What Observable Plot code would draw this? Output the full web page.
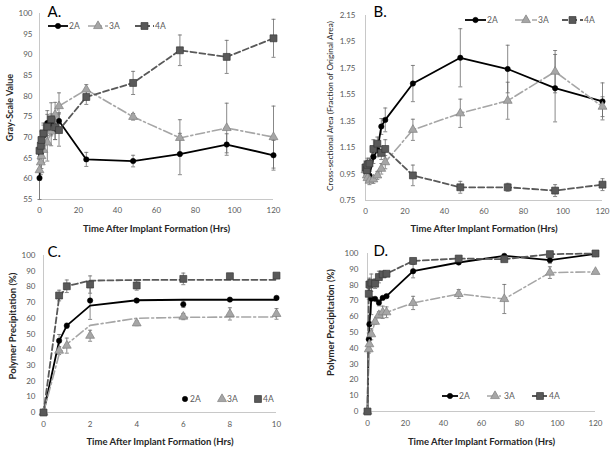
<!DOCTYPE html>
<html><head><meta charset="utf-8">
<script src="https://cdn.jsdelivr.net/npm/d3@7"></script>
<script src="https://cdn.jsdelivr.net/npm/@observablehq/plot@0.6"></script>
<style>
body{margin:0;background:#fff;font-family:Lato,"Open Sans",sans-serif;}
#wrap{position:relative;width:614px;height:454px;overflow:hidden;background:#fff;}
.panel{position:absolute;}
.leg{position:absolute;display:flex;align-items:center;font-size:8.5px;color:#595959;font-family:Lato,sans-serif;white-space:nowrap;}
.leg svg{overflow:visible;}
</style></head><body><div id="wrap"></div>
<script>
// ---------- data ----------
const hours = [0, 0.67, 1, 2, 4, 6, 8, 10, 24, 48, 72, 96, 120];
const hoursShort = [0, 0.67, 1, 2, 4, 6, 8, 10];
const seriesNames = ["2A", "3A", "4A"];

// Panel A: gray-scale value
const grayA_2A = [60.2, 66.0, 68.0, 70.5, 73.5, 73.2, 72.0, 74.0, 64.7, 64.3, 66.0, 68.3, 65.7];
const grayA_2A_err = [5.2, 2.0, 2.0, 2.5, 3.0, 2.5, 2.5, 2.0, 1.7, 1.4, 5.0, 2.6, 3.6];
const grayA_3A = [62.1, 64.0, 65.5, 67.0, 68.8, 71.5, 75.5, 77.6, 81.6, 75.0, 69.9, 72.3, 70.1];
const grayA_3A_err = [2.5, 3.0, 3.0, 3.0, 4.5, 3.5, 3.0, 3.2, 1.2, 0.8, 4.4, 6.0, 7.5];
const grayA_4A = [66.8, 68.0, 69.4, 71.0, 72.6, 74.4, 72.5, 71.8, 79.8, 83.2, 91.1, 89.5, 94.0];
const grayA_4A_err = [2.0, 2.0, 2.0, 2.5, 3.0, 4.0, 3.0, 3.9, 1.8, 2.8, 3.7, 4.0, 4.6];

// Panel B: cross-sectional area
const areaB_2A = [0.99, 0.97, 0.95, 0.94, 1.08, 1.13, 1.31, 1.36, 1.635, 1.83, 1.745, 1.60, 1.50];
const areaB_2A_err = [0.04, 0.04, 0.04, 0.03, 0.05, 0.05, 0.06, 0.09, 0.137, 0.22, 0.18, 0.255, 0.14];
const areaB_3A = [0.98, 0.94, 0.92, 0.90, 0.91, 0.94, 0.99, 1.04, 1.285, 1.41, 1.505, 1.725, 1.46];
const areaB_3A_err = [0.04, 0.03, 0.03, 0.03, 0.03, 0.03, 0.04, 0.05, 0.08, 0.107, 0.14, 0.16, 0.075];
const areaB_4A = [1.00, 0.98, 1.02, 1.03, 1.14, 1.18, 1.11, 1.14, 0.94, 0.85, 0.85, 0.825, 0.87];
const areaB_4A_err = [0.05, 0.05, 0.05, 0.04, 0.07, 0.05, 0.05, 0.07, 0.078, 0.045, 0.03, 0.045, 0.045];

// Panel C: precipitation, first 10 h (points + fitted curves)
const precC_2A = [0, 45.7, 55.3, 71.3, 71.3, 68.9, 71.9, 73.0];
const precC_2A_err = [0, 4, 1.5, 12, 1, 2, 1, 1];
const precC_3A = [0, 39.4, 42.6, 48.9, 56.8, 61.1, 62.8, 62.8];
const precC_3A_err = [0, 2.5, 4.8, 3.5, 1.5, 2, 3.9, 3.4];
const precC_4A = [0, 74.5, 80.4, 81.5, 80.9, 85.1, 86.8, 87.2];
const precC_4A_err = [0, 3.4, 4, 5.5, 3, 3.7, 1, 1];
const fitC_2A = [0, 45.5, 55.3, 68.1, 71.5, 71.8, 71.8, 71.8];
const fitC_3A = [0, 37.0, 43.5, 55.5, 60.0, 60.6, 60.8, 60.8];
const fitC_4A = [0, 73.0, 80.5, 84.0, 84.4, 84.5, 84.5, 84.5];

// Panel D: precipitation, 120 h
const precD_2A = [0, 45.7, 55.3, 71.3, 71.3, 68.9, 71.9, 73.0, 88.8, 94.3, 98.5, 95.8, 99.7];
const precD_2A_err = [0, 4, 1.5, 10, 1, 2, 1, 1, 4.2, 1, 1, 2, 0];
const precD_3A = [0, 39.4, 42.6, 48.9, 56.8, 61.1, 62.8, 62.8, 68.7, 74.4, 71.2, 87.9, 88.4];
const precD_3A_err = [0, 2.5, 4.8, 3.5, 1.5, 2, 3.9, 3.4, 4.2, 2.8, 9.2, 3.7, 0.5];
const precD_4A = [0, 74.5, 80.4, 81.5, 80.9, 85.1, 86.8, 87.2, 95.3, 96.8, 96.4, 99.6, 100];
const precD_4A_err = [0, 3.4, 4, 5.5, 3, 3.7, 1, 1, 1, 1, 1, 1, 0];

// tick labels
const xTicks120 = [0, 20, 40, 60, 80, 100, 120];
const xTicks10 = [0, 2, 4, 6, 8, 10];
const yTicksA = [55, 60, 65, 70, 75, 80, 85, 90, 95, 100];
const yTicksB = [0.75, 0.95, 1.15, 1.35, 1.55, 1.75, 1.95, 2.15];
const yTicks100 = [0, 10, 20, 30, 40, 50, 60, 70, 80, 90, 100];

const xTitle = "Time After Implant Formation (Hrs)";
const titleA = "Gray-Scale Value";
const titleB = "Cross-sectional Area (Fraction of Original Area)";
const titleCD = "Polymer Precipitation (%)";

// ---------- styles ----------
const styles = {
  "2A": {symbol: "circle", d3sym: d3.symbolCircle, r: 2.7, fill: "#000", stroke: "#000", sw: 0.5, line: "#000", lw: 1.8, dash: null},
  "3A": {symbol: "triangle", d3sym: d3.symbolTriangle, r: 3.3, fill: "#a6a6a6", stroke: "#7f7f7f", sw: 0.7, line: "#a6a6a6", lw: 1.6, dash: "9,3,2,3"},
  "4A": {symbol: "square", d3sym: d3.symbolSquare, r: 3.9, fill: "#595959", stroke: "#3a3a3a", sw: 0.7, line: "#595959", lw: 1.8, dash: "6,3"}
};
const errColor = "#6a6a6a";
const capSymbol = {draw(ctx, size) { const r = Math.sqrt(size / Math.PI); ctx.moveTo(-r, 0); ctx.lineTo(r, 0); }};

function rowsOf(t, v, e) { return t.map((x, i) => ({t: x, v: v[i], e: e ? e[i] : 0})); }

function panel(o) {
  const marks = [
    Plot.ruleY([o.yDomain[0]], {stroke: "#c8c8c8", strokeWidth: 1}),
    Plot.ruleX([o.xDomain[0]], {stroke: "#c8c8c8", strokeWidth: 1}),
    Plot.axisX({ticks: o.xTicks, tickSize: 0, tickPadding: o.xPad, label: null, fill: "#595959", fontSize: 8}),
    Plot.axisY({ticks: o.yTicks, tickSize: 0, tickPadding: o.yPad, label: null, tickFormat: o.yFmt, fill: "#595959", fontSize: 8})
  ];
  for (const s of o.series) {
    const eb = rowsOf(s.t, s.v, s.e).filter(d => d.e > 0);
    marks.push(Plot.ruleX(eb, {x: "t", y1: d => d.v - d.e, y2: d => d.v + d.e, stroke: errColor, strokeWidth: 0.8}));
    marks.push(Plot.dot(eb, {x: "t", y: d => d.v - d.e, symbol: capSymbol, r: 2, fill: "none", stroke: errColor, strokeWidth: 0.8}));
    marks.push(Plot.dot(eb, {x: "t", y: d => d.v + d.e, symbol: capSymbol, r: 2, fill: "none", stroke: errColor, strokeWidth: 0.8}));
  }
  for (const l of o.lines) {
    const st = styles[l.key];
    marks.push(Plot.line(rowsOf(l.t, l.v), {x: "t", y: "v", stroke: st.line, strokeWidth: st.lw, strokeDasharray: st.dash}));
  }
  for (const s of o.series) {
    const st = styles[s.key];
    marks.push(Plot.dot(rowsOf(s.t, s.v, s.e), {x: "t", y: "v", symbol: st.symbol, r: st.r, fill: st.fill, stroke: st.stroke, strokeWidth: st.sw}));
  }
  marks.push(Plot.text([o.letter], {text: d => d, frameAnchor: "top-left", textAnchor: "start", lineAnchor: "middle", dx: o.letterDx, dy: o.letterDy, fontSize: 15, fill: "#000"}));
  marks.push(Plot.text([xTitle], {text: d => d, frameAnchor: "bottom", textAnchor: "middle", lineAnchor: "middle", dy: o.xTitleDy, fontSize: 9.5, fontWeight: "bold", fill: "#262626"}));
  marks.push(Plot.text([o.yTitle], {text: d => d, frameAnchor: "left", textAnchor: "middle", lineAnchor: "middle", rotate: -90, dx: o.yTitleDx, dy: o.yTitleDy, fontSize: o.yTitleSize, fontWeight: o.yTitleWeight, fill: "#262626"}));
  const svg = Plot.plot({
    width: o.w, height: o.h,
    marginLeft: o.ml, marginRight: o.mr, marginTop: o.mt, marginBottom: o.mb,
    x: {domain: o.xDomain, label: null},
    y: {domain: o.yDomain, label: null},
    style: {fontFamily: "Lato, sans-serif", fontSize: "8px", color: "#595959", background: "none", overflow: "visible"},
    marks
  });
  svg.classList.add("panel");
  svg.style.left = o.left + "px";
  svg.style.top = o.top + "px";
  return svg;
}

function legendItem(parent, key, x, y, lineW, withLine) {
  const st = styles[key];
  const div = document.createElement("div");
  div.className = "leg";
  div.style.left = x + "px";
  div.style.top = (y - 6) + "px";
  div.style.height = "12px";
  const svg = d3.create("svg").attr("width", lineW).attr("height", 12);
  if (withLine) {
    svg.append("line").attr("x1", 0).attr("x2", lineW).attr("y1", 6).attr("y2", 6)
      .attr("stroke", st.line).attr("stroke-width", st.lw).attr("stroke-dasharray", st.dash);
  }
  svg.append("path").attr("transform", `translate(${lineW / 2},6)`)
    .attr("d", d3.symbol(st.d3sym, st.r * st.r * Math.PI)())
    .attr("fill", st.fill).attr("stroke", st.stroke).attr("stroke-width", st.sw);
  div.appendChild(svg.node());
  const sp = document.createElement("span");
  sp.textContent = key;
  sp.style.marginLeft = "1px";
  div.appendChild(sp);
  parent.appendChild(div);
}

const wrap = document.getElementById("wrap");

wrap.appendChild(panel({
  left: 0, top: 0, w: 307, h: 236, ml: 39, mr: 34, mt: 13, mb: 37,
  xDomain: [0, 120], xTicks: xTicks120, yDomain: [55, 100], yTicks: yTicksA, yFmt: d3.format("d"),
  xPad: 8, yPad: 7,
  series: [
    {key: "2A", t: hours, v: grayA_2A, e: grayA_2A_err},
    {key: "3A", t: hours, v: grayA_3A, e: grayA_3A_err},
    {key: "4A", t: hours, v: grayA_4A, e: grayA_4A_err}
  ],
  lines: [{key: "2A", t: hours, v: grayA_2A}, {key: "3A", t: hours, v: grayA_3A}, {key: "4A", t: hours, v: grayA_4A}],
  letter: "A.", letterDx: 8, letterDy: -1,
  xTitleDy: 29, yTitle: titleA, yTitleDx: -29, yTitleDy: 1, yTitleSize: 9, yTitleWeight: "bold"
}));

wrap.appendChild(panel({
  left: 307, top: 0, w: 307, h: 236, ml: 58, mr: 12, mt: 15, mb: 36,
  xDomain: [0, 120], xTicks: xTicks120, yDomain: [0.75, 2.15], yTicks: yTicksB, yFmt: d3.format(".2f"),
  xPad: 8, yPad: 10,
  series: [
    {key: "2A", t: hours, v: areaB_2A, e: areaB_2A_err},
    {key: "3A", t: hours, v: areaB_3A, e: areaB_3A_err},
    {key: "4A", t: hours, v: areaB_4A, e: areaB_4A_err}
  ],
  lines: [{key: "2A", t: hours, v: areaB_2A}, {key: "3A", t: hours, v: areaB_3A}, {key: "4A", t: hours, v: areaB_4A}],
  letter: "B.", letterDx: 8, letterDy: -3,
  xTitleDy: 28, yTitle: titleB, yTitleDx: -35, yTitleDy: -2, yTitleSize: 8.3, yTitleWeight: "normal"
}));

wrap.appendChild(panel({
  left: 0, top: 236, w: 307, h: 218, ml: 43, mr: 31, mt: 19, mb: 42,
  xDomain: [0, 10], xTicks: xTicks10, yDomain: [0, 100], yTicks: yTicks100, yFmt: d3.format("d"),
  xPad: 9, yPad: 8,
  series: [
    {key: "2A", t: hoursShort, v: precC_2A, e: precC_2A_err},
    {key: "3A", t: hoursShort, v: precC_3A, e: precC_3A_err},
    {key: "4A", t: hoursShort, v: precC_4A, e: precC_4A_err}
  ],
  lines: [{key: "2A", t: hoursShort, v: fitC_2A}, {key: "3A", t: hoursShort, v: fitC_3A}, {key: "4A", t: hoursShort, v: fitC_4A}],
  letter: "C.", letterDx: 4, letterDy: -3,
  xTitleDy: 29, yTitle: titleCD, yTitleDx: -31, yTitleDy: -8, yTitleSize: 9.5, yTitleWeight: "bold"
}));

wrap.appendChild(panel({
  left: 307, top: 236, w: 307, h: 218, ml: 60, mr: 19, mt: 17, mb: 43,
  xDomain: [0, 120], xTicks: xTicks120, yDomain: [0, 100], yTicks: yTicks100, yFmt: d3.format("d"),
  xPad: 9, yPad: 9,
  series: [
    {key: "2A", t: hours, v: precD_2A, e: precD_2A_err},
    {key: "3A", t: hours, v: precD_3A, e: precD_3A_err},
    {key: "4A", t: hours, v: precD_4A, e: precD_4A_err}
  ],
  lines: [{key: "2A", t: hours, v: precD_2A}, {key: "3A", t: hours, v: precD_3A}, {key: "4A", t: hours, v: precD_4A}],
  letter: "D.", letterDx: 6, letterDy: -2,
  xTitleDy: 30, yTitle: titleCD, yTitleDx: -37, yTitleDy: -10, yTitleSize: 9.5, yTitleWeight: "bold"
}));

// legends
legendItem(wrap, "2A", 48, 26, 20, true);
legendItem(wrap, "3A", 88, 26, 20, true);
legendItem(wrap, "4A", 135, 26, 19, true);

legendItem(wrap, "2A", 465, 20, 21, true);
legendItem(wrap, "3A", 515, 20, 22, true);
legendItem(wrap, "4A", 562, 20, 21, true);

legendItem(wrap, "2A", 181, 399, 8, false);
legendItem(wrap, "3A", 218, 399, 8, false);
legendItem(wrap, "4A", 254, 399, 8, false);

legendItem(wrap, "2A", 442, 396, 16, true);
legendItem(wrap, "3A", 487, 396, 16, true);
legendItem(wrap, "4A", 532, 396, 16, true);
</script></body></html>
